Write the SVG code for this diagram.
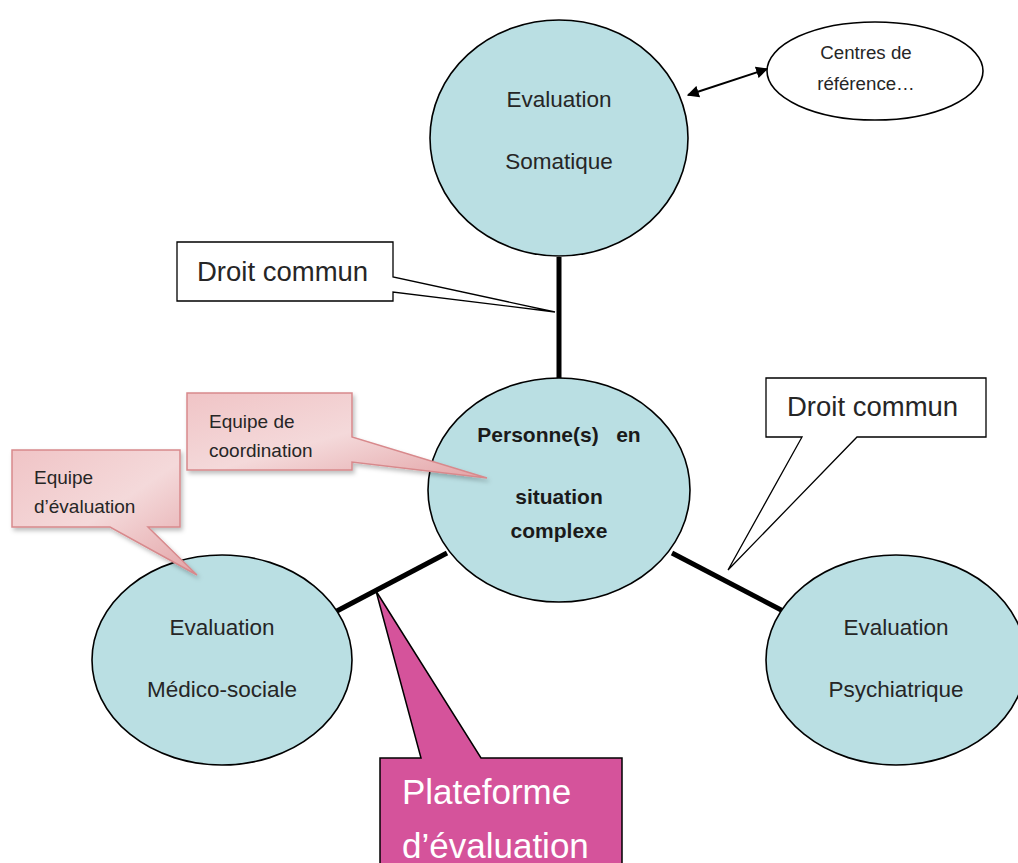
<svg xmlns="http://www.w3.org/2000/svg" width="1018" height="863" viewBox="0 0 1018 863">
<defs>
<style>
.node{fill:#badfe3;stroke:#000;stroke-width:1.6}
.t{font-family:"Liberation Sans",Arial,sans-serif;fill:#262626}
.ctr{text-anchor:middle}
.b{font-weight:bold;fill:#1a1a1a}
.link{stroke:#000;stroke-width:5;fill:none}
.call{fill:#fff;stroke:#000;stroke-width:1.3}
.pink{fill:url(#pg);stroke:#d8898c;stroke-width:1.5;filter:url(#sh)}
</style>
<linearGradient id="pg" x1="0" y1="0" x2="1" y2="1">
<stop offset="0" stop-color="#f0c4c6"/>
<stop offset="0.5" stop-color="#f4d9da"/>
<stop offset="1" stop-color="#e3a3a6"/>
</linearGradient>
<filter id="sh" x="-10%" y="-10%" width="130%" height="130%">
<feDropShadow dx="2" dy="3" stdDeviation="2" flood-color="#000" flood-opacity="0.25"/>
</filter>
<marker id="ah" viewBox="0 0 10 10" refX="9" refY="5" markerWidth="6" markerHeight="6" orient="auto-start-reverse">
<path d="M0,0 L10,5 L0,10 z" fill="#000"/>
</marker>
</defs>

<g id="connectors">
<line class="link" x1="559" y1="257" x2="559" y2="379"/>
<line class="link" x1="335" y1="612" x2="447" y2="553"/>
<line class="link" x1="672" y1="553" x2="785" y2="612"/>
<line x1="688" y1="95" x2="767" y2="69" stroke="#000" stroke-width="2" marker-start="url(#ah)" marker-end="url(#ah)"/>
</g>

<g id="somatique">
<ellipse class="node" cx="559" cy="138" rx="129" ry="118"/>
<text class="t ctr" x="559" y="107" font-size="22.5">Evaluation</text>
<text class="t ctr" x="559" y="169" font-size="22.5">Somatique</text>
</g>

<g id="centres">
<ellipse fill="#fff" stroke="#000" stroke-width="1.6" cx="875" cy="71" rx="108" ry="49"/>
<text class="t ctr" x="866" y="59" font-size="18.7">Centres de</text>
<text class="t ctr" x="866" y="90" font-size="18.7">référence…</text>
</g>

<g id="personnes">
<ellipse class="node" cx="559" cy="490" rx="131" ry="112"/>
<text class="t ctr b" x="559" y="442" font-size="21" xml:space="preserve">Personne(s)   en</text>
<text class="t ctr b" x="559" y="504" font-size="21">situation</text>
<text class="t ctr b" x="559" y="538" font-size="21">complexe</text>
</g>

<g id="medico">
<ellipse class="node" cx="222" cy="660" rx="130" ry="105"/>
<text class="t ctr" x="222" y="635" font-size="22.5">Evaluation</text>
<text class="t ctr" x="222" y="697" font-size="22.5">Médico-sociale</text>
</g>

<g id="psy">
<ellipse class="node" cx="896" cy="660" rx="130" ry="105"/>
<text class="t ctr" x="896" y="635" font-size="22.5">Evaluation</text>
<text class="t ctr" x="896" y="697" font-size="22.5">Psychiatrique</text>
</g>

<g id="droit-commun-1">
<path class="call" d="M177,242 H393 V277 L555,312 L393,292 V301 H177 Z"/>
<text class="t" x="197" y="281" font-size="27.5">Droit commun</text>
</g>

<g id="droit-commun-2">
<path class="call" d="M766,378 H986 V437 H857 L728,570 L802,437 H766 Z"/>
<text class="t" x="787" y="416" font-size="27.5">Droit commun</text>
</g>

<g id="equipe-coordination">
<path class="pink" d="M187,393 H352 V437 L487,478 L352,462 V470 H187 Z"/>
<text class="t" x="209" y="428" font-size="19">Equipe de</text>
<text class="t" x="209" y="457" font-size="19">coordination</text>
</g>

<g id="equipe-evaluation">
<path class="pink" d="M12,450 H180 V527 H148 L197,575 L110,527 H12 Z"/>
<text class="t" x="34" y="484" font-size="19">Equipe</text>
<text class="t" x="34" y="513" font-size="19">d’évaluation</text>
</g>

<g id="plateforme">
<path fill="#d5539b" stroke="#000" stroke-width="1.5" d="M380,758 H421 L376,591 L481,758 H622 V870 H380 Z"/>
<text x="402" y="804" font-size="35" fill="#fff" font-family="Liberation Sans,Arial,sans-serif">Plateforme</text>
<text x="402" y="858" font-size="35" fill="#fff" font-family="Liberation Sans,Arial,sans-serif">d’évaluation</text>
</g>
</svg>
